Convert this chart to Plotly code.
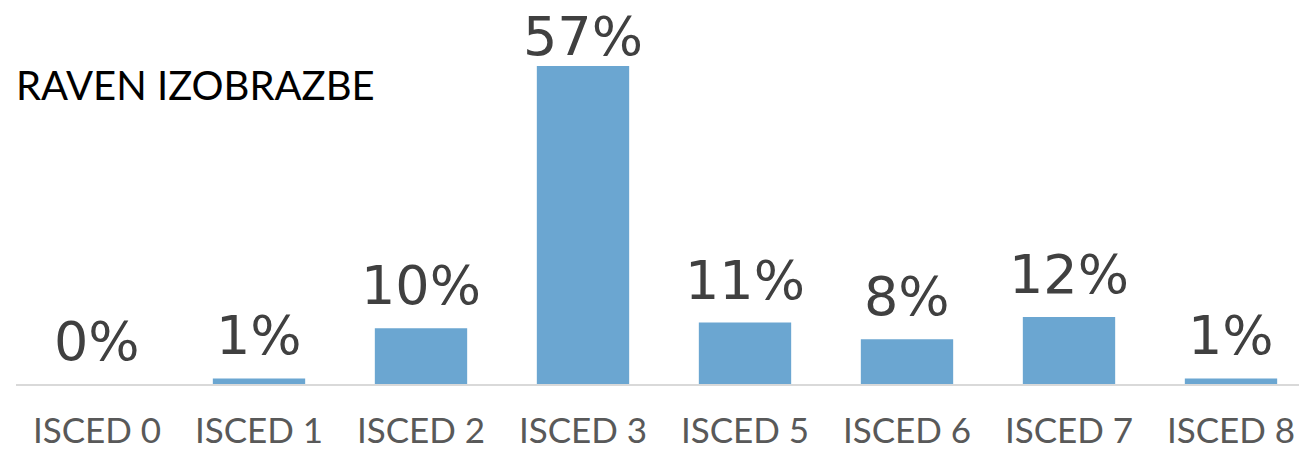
import plotly.graph_objects as go

categories = ["ISCED 0", "ISCED 1", "ISCED 2", "ISCED 3", "ISCED 5", "ISCED 6", "ISCED 7", "ISCED 8"]
values = [0, 1, 10, 57, 11, 8, 12, 1]
labels = [f"{v}%" for v in values]
title_text = "RAVEN IZOBRAZBE"

font_family = "Lato, 'Open Sans', sans-serif"
label_family = "'DejaVu Sans', sans-serif"

W, H = 1299, 451
L, B = 16, 67
plot_h = H - B
plot_w = W - L
px_per_unit = 5.58
label_gap = 9          # extra lift of value labels above bars (px)
label_ceiling = 314    # labels cannot rise above this height (px above axis)

fig = go.Figure(go.Bar(
    x=categories, y=values,
    marker=dict(color="#6BA6D1", line=dict(width=0)),
    width=0.57, cliponaxis=False,
))

for c, v, t in zip(categories, values, labels):
    shift = min(label_gap, label_ceiling - v * px_per_unit)
    fig.add_annotation(x=c, y=v, xref="x", yref="y", text=t, showarrow=False,
                       yanchor="bottom", yshift=shift,
                       font=dict(size=54, color="#404040", family=label_family))

fig.update_layout(
    width=W, height=H,
    margin=dict(l=L, r=0, t=0, b=B),
    paper_bgcolor="white", plot_bgcolor="white",
    showlegend=False,
    xaxis=dict(range=[-0.5, -0.5 + plot_w / 162], showline=True, linecolor="#D9D9D9", linewidth=2,
               ticks="outside", ticklen=15, tickcolor="rgba(0,0,0,0)",
               tickfont=dict(size=35, color="#595959", family=font_family)),
    yaxis=dict(range=[0, plot_h / px_per_unit], visible=False, showgrid=False, zeroline=False),
)
fig.add_annotation(text=title_text, xref="paper", yref="paper",
                   x=(14 - L) / plot_w, y=(plot_h - 85) / plot_h, xanchor="left", yanchor="middle",
                   showarrow=False, font=dict(size=40, color="#000000", family=font_family))

fig.write_html("out.html", config={"displayModeBar": False},
               post_script="document.body.style.margin='0';document.body.style.overflow='hidden';")
